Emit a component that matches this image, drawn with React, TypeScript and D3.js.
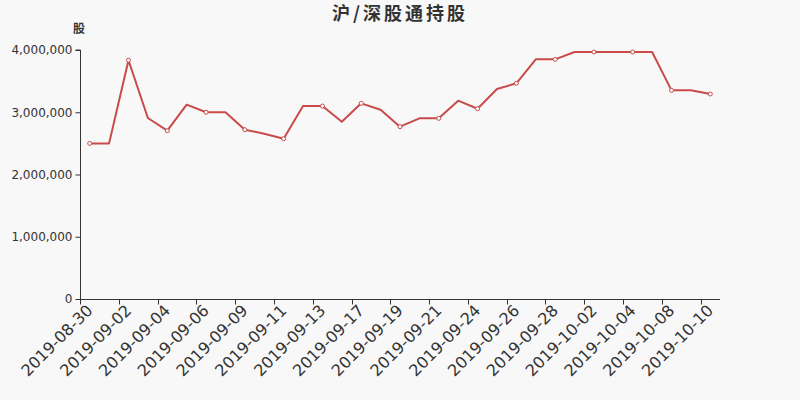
import React, { useEffect, useRef } from "react";
import * as d3 from "d3";

const dates = [
  "2019-08-30", "2019-08-31", "2019-09-02", "2019-09-03", "2019-09-04", "2019-09-05",
  "2019-09-06", "2019-09-07", "2019-09-09", "2019-09-10", "2019-09-11", "2019-09-12",
  "2019-09-13", "2019-09-16", "2019-09-17", "2019-09-18", "2019-09-19", "2019-09-20",
  "2019-09-21", "2019-09-23", "2019-09-24", "2019-09-25", "2019-09-26", "2019-09-27",
  "2019-09-28", "2019-09-30", "2019-10-02", "2019-10-03", "2019-10-04", "2019-10-07",
  "2019-10-08", "2019-10-09", "2019-10-10",
];

const holdings = [
  2500000, 2500000, 3835000, 2908000, 2704000, 3122000,
  3000000, 3000000, 2720000, 2656000, 2575000, 3100000,
  3100000, 2848000, 3143000, 3041000, 2768000, 2902000,
  2902000, 3186000, 3057000, 3373000, 3465000, 3850000,
  3850000, 3968000, 3968000, 3968000, 3968000, 3968000,
  3352000, 3352000, 3293000,
];

const yTicks = [0, 1000000, 2000000, 3000000, 4000000];
const title = "沪/深股通持股";
const yName = "股";

const W = 800;
const H = 400;
const M = { left: 80, right: 80, top: 50, bottom: 101 };
const COLOR = "#c84b4a";

export default function App() {
  const ref = useRef<SVGSVGElement>(null);

  useEffect(() => {
    const svg = d3.select(ref.current);
    svg.selectAll("*").remove();

    svg.append("rect").attr("width", W).attr("height", H).attr("fill", "#f8f8f8");

    const x = d3.scaleBand<string>().domain(dates).range([M.left, W - M.right]).paddingInner(0).paddingOuter(0);
    const y = d3.scaleLinear().domain([0, 4000000]).range([H - M.bottom, M.top]);

    // title
    svg.append("text")
      .attr("x", W / 2)
      .attr("y", 20)
      .attr("text-anchor", "middle")
      .attr("font-family", "'Noto Sans CJK SC', sans-serif")
      .attr("font-weight", "bold")
      .attr("font-size", 18)
      .attr("letter-spacing", 3)
      .attr("fill", "#333")
      .text(title);

    // y axis name
    svg.append("text")
      .attr("x", 79)
      .attr("y", 33)
      .attr("text-anchor", "middle")
      .attr("font-family", "'Noto Sans CJK SC', sans-serif")
      .attr("font-weight", "bold")
      .attr("font-size", 12)
      .attr("fill", "#333")
      .text(yName);

    // y axis
    const yAxis = d3.axisLeft(y)
      .tickValues(yTicks)
      .tickSize(5)
      .tickPadding(3)
      .tickFormat((d) => d3.format(",")(d as number));
    const gy = svg.append("g").attr("transform", `translate(${M.left + 0.5},0)`).call(yAxis);
    gy.select(".domain").attr("stroke", "#333").attr("d", `M-5,${y(4000000)}H0V${y(0)}`);
    gy.selectAll(".tick line").attr("stroke", "#333");
    gy.selectAll("text")
      .attr("font-family", "'DejaVu Sans', sans-serif")
      .attr("font-size", 12)
      .attr("fill", "#333");

    // x axis
    const shown = dates.filter((_, i) => i % 2 === 0);
    const xAxis = d3.axisBottom(x).tickValues(shown).tickSize(0).tickPadding(0);
    const gx = svg.append("g").attr("transform", `translate(0,${H - M.bottom + 0.5})`).call(xAxis);
    gx.select(".domain").attr("stroke", "#333").attr("d", `M${M.left},0H${W - M.right}`);
    gx.selectAll(".tick line").remove();
    gx.selectAll(".tick text")
      .attr("font-family", "'DejaVu Sans', sans-serif")
      .attr("font-size", 16)
      .attr("fill", "#333")
      .attr("text-anchor", "end")
      .attr("dy", "0.35em")
      .attr("transform", "translate(0,8) rotate(-45)");
    // boundary ticks every 2 categories
    const bw = x.bandwidth();
    gx.selectAll(".btick")
      .data(shown)
      .enter()
      .append("line")
      .attr("x1", (d) => Math.round((x(d) as number)) + 0.5)
      .attr("x2", (d) => Math.round((x(d) as number)) + 0.5)
      .attr("y1", 0)
      .attr("y2", 5)
      .attr("stroke", "#333");

    // line
    const line = d3.line<number>()
      .x((_, i) => (x(dates[i]) as number) + bw / 2)
      .y((d) => y(d));
    svg.append("path")
      .datum(holdings)
      .attr("d", line)
      .attr("fill", "none")
      .attr("stroke", COLOR)
      .attr("stroke-width", 2)
      .attr("stroke-linejoin", "round");

    svg.selectAll(".pt")
      .data(holdings.map((v, i) => ({ v, i })).filter((d) => d.i % 2 === 0))
      .enter()
      .append("circle")
      .attr("cx", (d) => (x(dates[d.i]) as number) + bw / 2)
      .attr("cy", (d) => y(d.v))
      .attr("r", 2)
      .attr("fill", "#fff")
      .attr("stroke", COLOR)
      .attr("stroke-width", 1);
  }, []);

  return (
    <div style={{ position: "fixed", left: 0, top: 0, width: W, height: H }}>
      <svg ref={ref} width={W} height={H} style={{ display: "block" }} />
    </div>
  );
}
